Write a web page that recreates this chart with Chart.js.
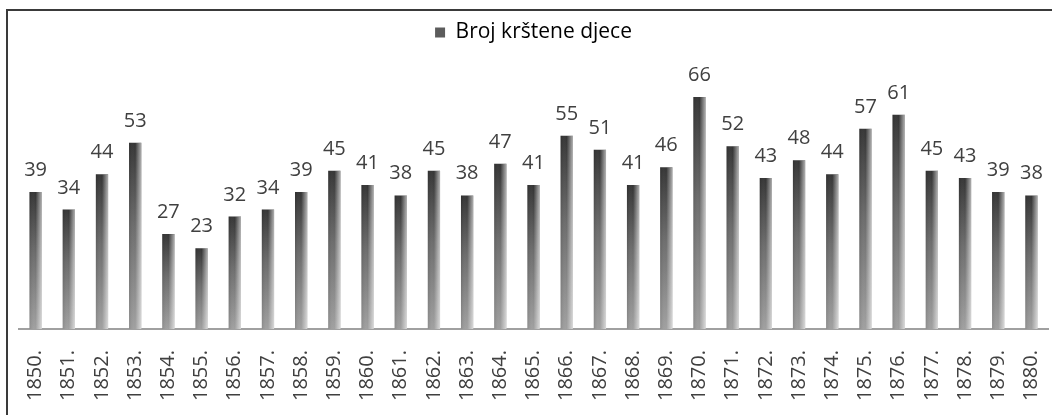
<!DOCTYPE html>
<html>
<head>
<meta charset="utf-8">
<script src="https://cdn.jsdelivr.net/npm/chart.js@4.4.0/dist/chart.umd.min.js"></script>
<style>
  html, body { margin: 0; padding: 0; background: #fff; }
  #frame {
    position: absolute; left: 6px; top: 9px; width: 1060px; height: 420px;
    border-top: 2px solid #3a3a3a; border-left: 2px solid #3a3a3a;
  }
  #wrap { position: absolute; left: 0; top: 0; width: 1052px; height: 415px; }
</style>
</head>
<body>
<div id="frame"></div>
<div id="wrap"><canvas id="barChart"></canvas></div>
<script>
const years = ['1850.', '1851.', '1852.', '1853.', '1854.', '1855.', '1856.', '1857.', '1858.', '1859.',
               '1860.', '1861.', '1862.', '1863.', '1864.', '1865.', '1866.', '1867.', '1868.', '1869.',
               '1870.', '1871.', '1872.', '1873.', '1874.', '1875.', '1876.', '1877.', '1878.', '1879.', '1880.'];
const baptised = [39, 34, 44, 53, 27, 23, 32, 34, 39, 45,
                  41, 38, 45, 38, 47, 41, 55, 51, 41, 46,
                  66, 52, 43, 48, 44, 57, 61, 45, 43, 39, 38];
const seriesName = 'Broj krštene djece';

const FONT = '"Open Sans", sans-serif';
const TEXT = '#404040';

// vertical gradient per bar: dark at the top, lighter towards the base
function barFill(c) {
    const chart = c.chart;
    if (!chart.chartArea || c.raw === undefined) return '#5a5a5a';
    const y = chart.scales.y;
    const top = y.getPixelForValue(c.raw);
    const base = y.getPixelForValue(0);
    const g = chart.ctx.createLinearGradient(0, top, 0, base);
    g.addColorStop(0, '#343434');
    g.addColorStop(0.45, '#6c6c6c');
    g.addColorStop(1, '#a0a0a0');
    return g;
}

// extra room between the legend and the plot
const legendGap = {
    id: 'legendGap',
    beforeInit(chart) {
        const fit = chart.legend.fit;
        chart.legend.fit = function () {
            fit.call(this);
            this.height += 30;
        };
    }
};

// light sheen on the right side of each bar + value labels
const barDecor = {
    id: 'barDecor',
    afterDatasetsDraw(chart) {
        const ctx = chart.ctx;
        const meta = chart.getDatasetMeta(0);
        ctx.save();
        meta.data.forEach((bar, i) => {
            const p = bar.getProps(['x', 'y', 'width', 'base'], true);
            const l = p.x - p.width / 2, r = p.x + p.width / 2;
            const g = ctx.createLinearGradient(l, 0, r, 0);
            g.addColorStop(0, 'rgba(0,0,0,0.12)');
            g.addColorStop(0.5, 'rgba(255,255,255,0)');
            g.addColorStop(1, 'rgba(255,255,255,0.6)');
            ctx.fillStyle = g;
            ctx.fillRect(l, p.y, p.width, p.base - p.y);

            ctx.fillStyle = TEXT;
            ctx.font = '20px ' + FONT;
            ctx.textAlign = 'center';
            ctx.textBaseline = 'alphabetic';
            ctx.fillText(baptised[i], p.x, p.y - 16);
        });
        ctx.restore();
    }
};

new Chart(document.getElementById('barChart'), {
    type: 'bar',
    data: {
        labels: years,
        datasets: [{
            label: seriesName,
            data: baptised,
            backgroundColor: barFill,
            borderWidth: 0,
            barPercentage: 0.37,
            categoryPercentage: 1,
        }],
    },
    options: {
        responsive: true,
        maintainAspectRatio: false,
        animation: false,
        layout: { padding: { left: 19, right: 4, top: 12, bottom: 0 } },
        plugins: {
            legend: {
                labels: {
                    font: { family: FONT, size: 21 },
                    color: TEXT,
                    boxWidth: 10,
                    boxHeight: 10,
                    padding: 10,
                    generateLabels: (chart) => [{
                        text: seriesName,
                        fillStyle: '#5c5c5c',
                        strokeStyle: '#5c5c5c',
                        lineWidth: 0,
                        datasetIndex: 0,
                    }],
                },
            },
            tooltip: { enabled: false },
        },
        scales: {
            x: {
                grid: { display: false, drawTicks: false },
                border: { display: true, color: '#a0a0a0', width: 2 },
                ticks: {
                    font: { family: FONT, size: 20 },
                    color: TEXT,
                    minRotation: 90,
                    maxRotation: 90,
                    padding: 21,
                    autoSkip: false,
                },
                afterFit(scale) {
                    scale.paddingLeft = 0;
                    scale.paddingRight = 0;
                    scale.height = 86;
                },
            },
            y: {
                display: false,
                min: 0,
                max: 70,
            },
        },
    },
    plugins: [barDecor, legendGap],
});
</script>
</body>
</html>
